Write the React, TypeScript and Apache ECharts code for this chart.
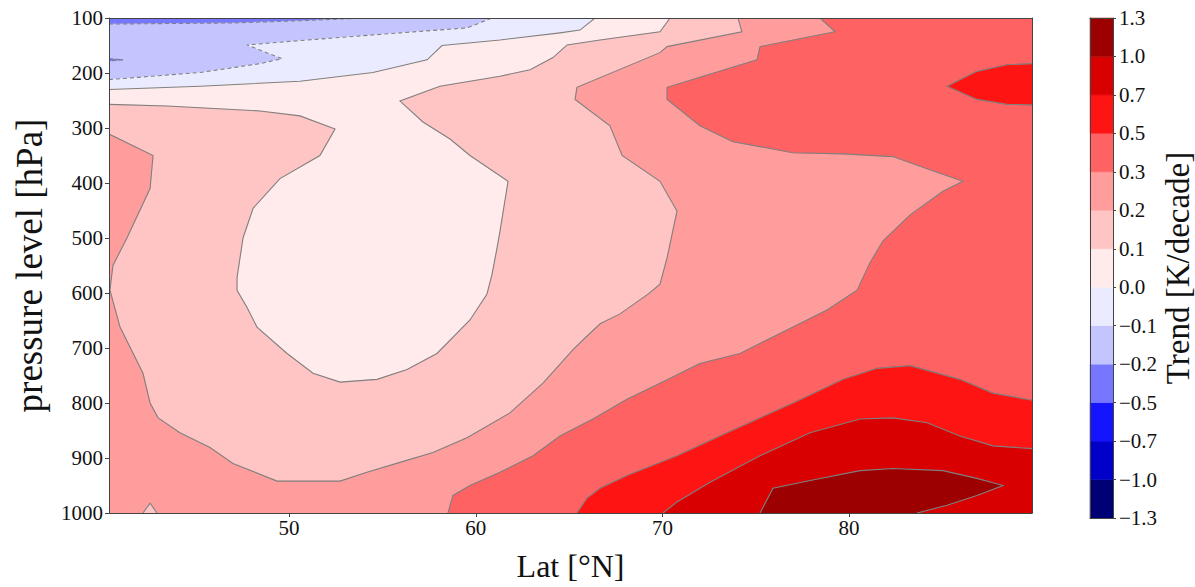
import React, { useEffect, useRef } from "react";
import * as echarts from "echarts";

// ---- axes ----
const LAT_MIN = 40.35;
const LAT_MAX = 89.8;
const P_TOP = 100;
const P_BOTTOM = 1000;
const LAT_TICKS = [50, 60, 70, 80];
const P_STEP = 100;

// ---- contour levels / colours (seismic) ----
const LEVELS = [-1.3, -1.0, -0.7, -0.5, -0.2, -0.1, 0.0, 0.1, 0.2, 0.3, 0.5, 0.7, 1.0, 1.3];
const LEVEL_LABELS = [
  "\u22121.3", "\u22121.0", "\u22120.7", "\u22120.5", "\u22120.2", "\u22120.1",
  "0.0", "0.1", "0.2", "0.3", "0.5", "0.7", "1.0", "1.3",
];
const BIN_COLORS = [
  "#000076", "#0000c8", "#1414ff", "#7676ff", "#c4c4ff", "#ebebff",
  "#ffebeb", "#ffc4c4", "#ff9d9d", "#ff6262", "#ff1414", "#d80000", "#9d0000",
];

// ---- contour lines, [lat °N, pressure hPa] ----
const C_NEG02 = [[40.35, 111], [46.99, 109], [50.58, 105], [54.07, 100]];
const C_NEG02_SPECK = [[40.35, 174], [40.75, 175], [41.1, 176], [40.75, 177], [40.35, 178]];
const C_NEG01 = [
  [40.35, 212], [45.23, 199], [48.44, 183], [49.62, 174], [47.74, 149], [50.58, 141],
  [55.94, 127], [59.53, 118], [60.87, 100],
];
const C_00 = [
  [40.35, 230], [45.23, 224], [50.58, 215], [54.49, 199], [57.39, 176], [58.19, 150],
  [61.3, 140], [64.51, 127], [65.58, 122], [66.39, 100],
];
const C_01 = [
  [40.35, 257], [43.46, 260], [48.44, 269], [50.58, 278], [52.46, 302], [51.65, 350],
  [49.51, 392], [48.07, 446], [47.53, 500], [47.21, 572], [47.21, 595], [47.74, 626],
  [48.28, 662], [49.89, 710], [51.28, 746], [52.73, 762], [54.71, 757], [56.32, 739],
  [57.92, 710], [59.69, 649], [60.6, 602], [60.87, 566], [61.14, 518], [61.3, 487],
  [61.73, 397], [59.69, 350], [58.62, 320], [57.17, 289], [55.94, 251], [58.08, 224],
  [61.3, 206], [62.91, 194], [64.14, 172], [64.89, 149], [66.66, 140], [69.87, 125],
  [70.41, 100],
];
const C_02 = [
  [40.35, 311], [42.71, 350], [42.55, 410], [41.31, 500], [40.56, 550], [40.4, 595],
  [40.94, 662], [42.17, 746], [42.55, 800], [42.98, 827], [44.15, 854], [45.76, 881],
  [46.99, 910], [49.35, 942], [52.73, 942], [54.17, 926], [55.94, 908], [57.71, 890],
  [59.53, 863], [61.83, 818], [63.6, 764], [65.21, 703], [65.91, 680], [66.66, 656],
  [67.73, 638], [69.23, 602], [69.87, 584], [70.25, 536], [70.78, 451], [69.87, 397],
  [67.84, 350], [67.19, 296], [65.32, 248], [65.42, 226], [69.87, 163], [70.25, 152],
  [74.26, 125], [74.05, 100],
];
const C_02_NOTCH = [[42.17, 1000], [42.55, 982], [42.92, 1000]];
const C_03 = [
  [58.51, 1000], [58.78, 968], [59.69, 950], [61.3, 926], [63.07, 896], [64.51, 860],
  [66.28, 829], [68.1, 793], [69.87, 764], [72.01, 728], [74.16, 710], [75.92, 680],
  [78.82, 631], [80.43, 595], [81.12, 545], [81.82, 505], [83.27, 458], [85.03, 415],
  [86.1, 397], [84.18, 374], [82.35, 352], [79.68, 347], [77.0, 345], [73.78, 325],
  [72.01, 296], [70.25, 248], [70.25, 226], [75.07, 176], [75.23, 152], [79.25, 125],
  [78.44, 100],
];
const C_05_LOW = [
  [65.42, 1000], [65.96, 973], [66.66, 955], [68.1, 932], [70.78, 896], [73.46, 854],
  [77.0, 800], [79.68, 757], [81.5, 737], [83.27, 732], [85.94, 757], [87.71, 782],
  [89.8, 795],
];
const C_05_BLOB = [
  [89.8, 183], [88.46, 185], [86.85, 197], [85.25, 224], [86.85, 248], [88.46, 257],
  [89.8, 258],
];
const C_07 = [
  [70.03, 1000], [70.78, 980], [72.55, 944], [75.23, 896], [77.91, 854], [80.59, 829],
  [82.35, 827], [84.18, 836], [85.94, 860], [87.71, 878], [89.8, 883],
];
const C_10 = [
  [75.23, 1000], [75.92, 955], [77.91, 941], [80.59, 923], [82.35, 919], [85.03, 923],
  [86.85, 937], [88.25, 950], [86.85, 968], [85.25, 986], [83.64, 1000],
];

const CORNERS: Record<string, number[]> = {
  TL: [LAT_MIN, P_TOP],
  TR: [LAT_MAX, P_TOP],
  BR: [LAT_MAX, P_BOTTOM],
  BL: [LAT_MIN, P_BOTTOM],
};

type Piece = { level: number; line: number[][]; corners: string[]; hole?: boolean };

// superlevel regions, painted in order (hole = island below the level)
const PIECES: Piece[] = [
  { level: -0.5, line: [], corners: ["TL", "TR", "BR", "BL"] },
  { level: -0.2, line: C_NEG02, corners: ["TR", "BR", "BL"] },
  { level: -0.2, line: C_NEG02_SPECK, corners: [], hole: true },
  { level: -0.1, line: C_NEG01, corners: ["TR", "BR", "BL"] },
  { level: 0.0, line: C_00, corners: ["TR", "BR", "BL"] },
  { level: 0.1, line: C_01, corners: ["TR", "BR", "BL"] },
  { level: 0.2, line: C_02, corners: ["TR", "BR", "BL"] },
  { level: 0.2, line: C_02_NOTCH, corners: [], hole: true },
  { level: 0.3, line: C_03, corners: ["TR", "BR"] },
  { level: 0.5, line: C_05_LOW, corners: ["BR"] },
  { level: 0.5, line: C_05_BLOB, corners: [] },
  { level: 0.7, line: C_07, corners: ["BR"] },
  { level: 1.0, line: C_10, corners: [] },
];

const FONT = "'Liberation Serif', 'DejaVu Serif', serif";
const AXIS_COLOR = "#444";
const TEXT_COLOR = "#111";

export default function App() {
  const ref = useRef<HTMLDivElement>(null);

  useEffect(() => {
    const chart = echarts.init(ref.current as HTMLDivElement, null, { renderer: "svg" });

    const fillColor = (pc: Piece) => BIN_COLORS[LEVELS.indexOf(pc.level) - (pc.hole ? 1 : 0)];

    const frameAxis = (gridIndex: number, position: string, extra: any = {}) => ({
      gridIndex,
      type: "value",
      position,
      axisLine: { show: true, onZero: false, lineStyle: { color: AXIS_COLOR, width: 1 } },
      axisTick: { show: false },
      axisLabel: { show: false },
      splitLine: { show: false },
      z: 10,
      ...extra,
    });

    const option: any = {
      animation: false,
      textStyle: { fontFamily: FONT },
      grid: [
        { left: 109, top: 18, width: 923, height: 500 },
        { left: 1090, top: 18, width: 25, height: 500 },
      ],
      xAxis: [
        {
          gridIndex: 0,
          type: "value",
          position: "bottom",
          min: LAT_MIN,
          max: LAT_MAX,
          axisLine: { show: true, onZero: false, lineStyle: { color: AXIS_COLOR, width: 1 } },
          axisTick: {
            show: true,
            length: 4,
            customValues: LAT_TICKS,
            lineStyle: { color: AXIS_COLOR },
          },
          axisLabel: {
            show: true,
            customValues: LAT_TICKS,
            margin: 4,
            fontFamily: FONT,
            fontSize: 21,
            color: TEXT_COLOR,
            formatter: (v: number) => String(v),
          },
          splitLine: { show: false },
          name: "Lat [°N]",
          nameLocation: "middle",
          nameGap: 37,
          nameTextStyle: { fontFamily: FONT, fontSize: 32, color: TEXT_COLOR },
          z: 10,
        },
        frameAxis(0, "top", { min: LAT_MIN, max: LAT_MAX }),
        frameAxis(1, "bottom", { min: 0, max: 1 }),
        frameAxis(1, "top", { min: 0, max: 1 }),
      ],
      yAxis: [
        {
          gridIndex: 0,
          type: "value",
          position: "left",
          inverse: true,
          min: P_TOP,
          max: P_BOTTOM,
          interval: P_STEP,
          axisLine: { show: true, onZero: false, lineStyle: { color: AXIS_COLOR, width: 1 } },
          axisTick: { show: true, length: 4, lineStyle: { color: AXIS_COLOR } },
          axisLabel: {
            show: true,
            margin: 6,
            fontFamily: FONT,
            fontSize: 21,
            color: TEXT_COLOR,
            formatter: (v: number) => String(v),
          },
          splitLine: { show: false },
          name: "pressure level [hPa]",
          nameLocation: "middle",
          nameRotate: 90,
          nameGap: 61,
          nameTextStyle: { fontFamily: FONT, fontSize: 37, color: TEXT_COLOR },
          z: 10,
        },
        frameAxis(0, "right", { inverse: true, min: P_TOP, max: P_BOTTOM }),
        {
          gridIndex: 1,
          type: "value",
          position: "right",
          min: 0,
          max: LEVELS.length - 1,
          interval: 1,
          axisLine: { show: true, onZero: false, lineStyle: { color: AXIS_COLOR, width: 1 } },
          axisTick: { show: true, length: 3, lineStyle: { color: AXIS_COLOR } },
          axisLabel: {
            show: true,
            margin: 6,
            fontFamily: FONT,
            fontSize: 21,
            color: TEXT_COLOR,
            formatter: (v: number) => LEVEL_LABELS[Math.round(v)],
          },
          splitLine: { show: false },
          name: "Trend [K/decade]",
          nameLocation: "middle",
          nameRotate: 90,
          nameGap: 40,
          nameTextStyle: { fontFamily: FONT, fontSize: 33, color: TEXT_COLOR },
          z: 10,
        },
        frameAxis(1, "left", { min: 0, max: LEVELS.length - 1 }),
      ],
      series: [
        {
          type: "custom",
          name: "fills",
          xAxisIndex: 0,
          yAxisIndex: 0,
          clip: true,
          silent: true,
          z: 2,
          data: PIECES.map((pc) => pc.line[0] || CORNERS.TL),
          renderItem: (params: any, api: any) => {
            const pc = PIECES[params.dataIndex];
            const pts = pc.line.map((d) => api.coord(d));
            pc.corners.forEach((c) => pts.push(api.coord(CORNERS[c])));
            const col = fillColor(pc);
            return {
              type: "polygon",
              shape: { points: pts },
              style: { fill: col, stroke: col, lineWidth: 0.6 },
            };
          },
        },
        {
          type: "custom",
          name: "lines",
          xAxisIndex: 0,
          yAxisIndex: 0,
          clip: true,
          silent: true,
          z: 3,
          data: PIECES.map((pc) => pc.line[0] || CORNERS.TL),
          renderItem: (params: any, api: any) => {
            const pc = PIECES[params.dataIndex];
            if (pc.line.length < 2) return { type: "group", children: [] };
            return {
              type: "polyline",
              shape: { points: pc.line.map((d) => api.coord(d)) },
              style: {
                fill: null,
                stroke: "#808080",
                lineWidth: 1.1,
                lineDash: pc.level < 0 ? [4, 3] : null,
              },
            };
          },
        },
        {
          type: "custom",
          name: "colorbar",
          xAxisIndex: 2,
          yAxisIndex: 2,
          clip: false,
          silent: true,
          z: 2,
          data: BIN_COLORS.map((_, i) => [0, i]),
          renderItem: (params: any, api: any) => {
            const i = params.dataIndex;
            const p0 = api.coord([0, i]);
            const p1 = api.coord([1, i + 1]);
            return {
              type: "rect",
              shape: { x: p0[0], y: p1[1], width: p1[0] - p0[0], height: p0[1] - p1[1] },
              style: { fill: BIN_COLORS[i], stroke: BIN_COLORS[i], lineWidth: 0.5 },
            };
          },
        },
      ],
    };

    chart.setOption(option);
    return () => chart.dispose();
  }, []);

  return (
    <div
      ref={ref}
      style={{ position: "absolute", left: 0, top: 0, width: 1195, height: 587, background: "#fff" }}
    />
  );
}
